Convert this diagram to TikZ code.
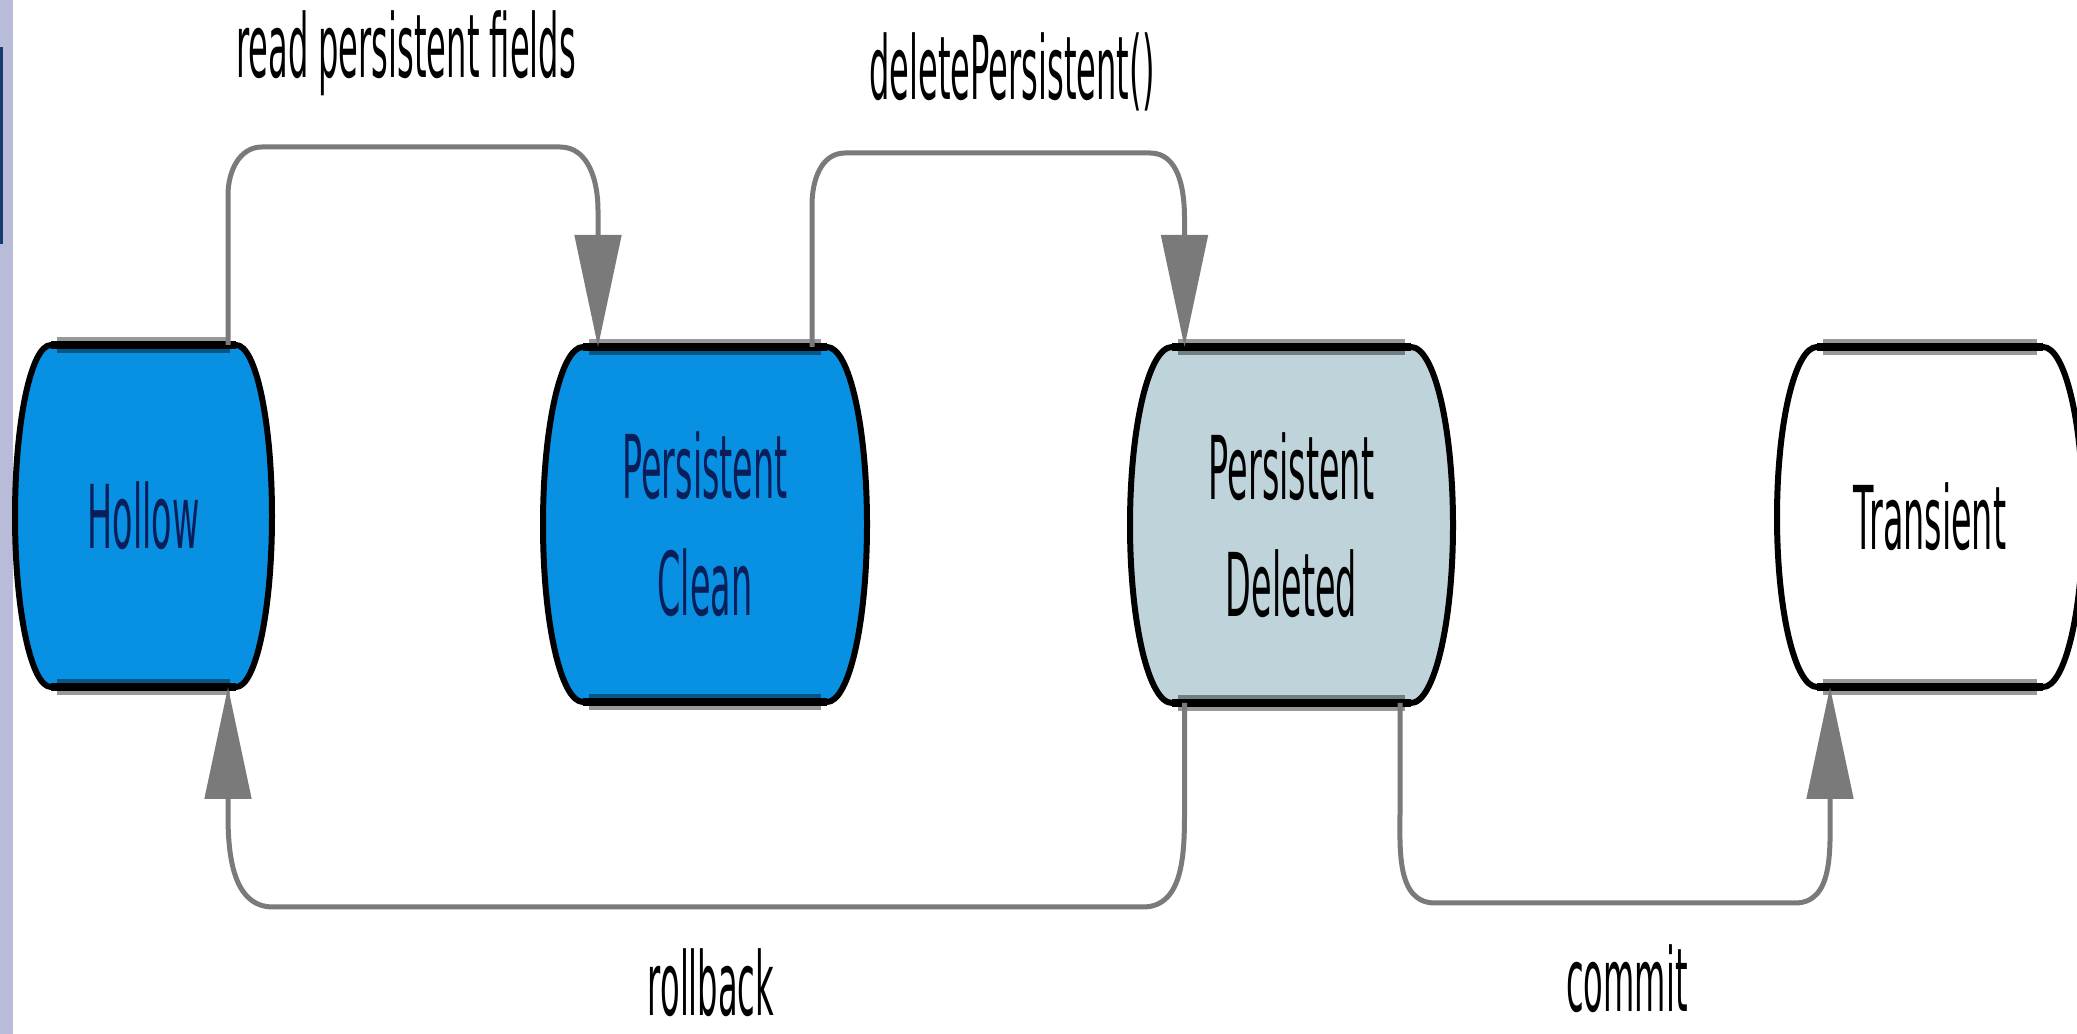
\documentclass[tikz,border=0pt]{standalone}
\usepackage{fontspec}
\setmainfont{DejaVu Sans}
\newfontfamily\nodefont[FakeStretch=0.38]{DejaVu Sans}
\newfontfamily\labfont[FakeStretch=0.365]{DejaVu Sans}
\usetikzlibrary{arrows.meta,backgrounds}
\definecolor{stblue}{RGB}{8,144,226}
\definecolor{stgrey}{RGB}{190,212,218}
\definecolor{navytext}{RGB}{10,30,90}
\definecolor{conncol}{RGB}{122,122,122}
\definecolor{stripcol}{RGB}{184,188,216}
\definecolor{stripmark}{RGB}{20,60,110}
\def\pxu{0.25pt}
% #1 node name, #2 bulge (px), #3 half height (px), #4 fill colour
\newcommand{\drawbarrel}[4]{%
  \path[fill=#4] ([xshift=#2*\pxu]#1.north west) -- ([xshift=-#2*\pxu]#1.north east)
     arc[start angle=90,end angle=-90,x radius=#2*\pxu,y radius=#3*\pxu]
     -- ([xshift=#2*\pxu]#1.south west)
     arc[start angle=270,end angle=90,x radius=#2*\pxu,y radius=#3*\pxu] -- cycle;
  \draw[black,opacity=0.4,line width=16*\pxu] ([xshift=(#2+6)*\pxu]#1.north west) -- ([xshift=-(#2+6)*\pxu]#1.north east);
  \draw[black,opacity=0.4,line width=16*\pxu] ([xshift=(#2+6)*\pxu]#1.south west) -- ([xshift=-(#2+6)*\pxu]#1.south east);
  \draw[black,line width=6*\pxu,line join=round] ([xshift=#2*\pxu]#1.north west) -- ([xshift=-#2*\pxu]#1.north east)
     arc[start angle=90,end angle=-90,x radius=#2*\pxu,y radius=#3*\pxu]
     -- ([xshift=#2*\pxu]#1.south west)
     arc[start angle=270,end angle=90,x radius=#2*\pxu,y radius=#3*\pxu] -- cycle;
  \draw[black,line width=8*\pxu] ([xshift=#2*\pxu]#1.north west) -- ([xshift=-#2*\pxu]#1.north east);
  \draw[black,line width=8*\pxu] ([xshift=#2*\pxu]#1.south west) -- ([xshift=-#2*\pxu]#1.south east);
}

\begin{document}
\begin{tikzpicture}[x=0.25pt,y=0.25pt,
  state/.style={rectangle,draw=none,inner sep=0pt,outer sep=0pt,align=center,
    font=\nodefont\fontsize{22}{29.25}\selectfont},
  elabel/.style={anchor=base,inner sep=0pt,font=\labfont\fontsize{22}{29.25}\selectfont,text=black},
  conn/.style={draw=conncol,line width=5*\pxu,-{Triangle[length=28pt,width=11.5pt]}}]

\useasboundingbox (0,0) rectangle (2077,-1034);

% states
\node[state,minimum width=257*\pxu,minimum height=342*\pxu,text=navytext] (hollow) at (143.5,-516) {Hollow};
\node[state,minimum width=324*\pxu,minimum height=355*\pxu,text=navytext] (clean) at (705,-524.5) {Persistent\\Clean};
\node[state,minimum width=323*\pxu,minimum height=356*\pxu,text=black] (deleted) at (1291.5,-525) {Persistent\\Deleted};
\node[state,minimum width=306*\pxu,minimum height=340*\pxu,text=black] (transient) at (1930,-517) {Transient};

\begin{scope}[on background layer]
  \fill[white] (0,0) rectangle (2077,-1034);
  % left strip
  \fill[stripcol] (0,0) rectangle (13,-1034);
  \fill[stripmark] (0,-47) rectangle (3.5,-244);
  \drawbarrel{hollow}{36}{171}{stblue}
  \drawbarrel{clean}{40}{177.5}{stblue}
  \drawbarrel{deleted}{42}{178}{stgrey}
  \drawbarrel{transient}{40}{170}{white}
\end{scope}

% connectors
\draw[conn] ([xshift=84.5*\pxu]hollow.north) -- (228,-195) to[out=90,in=180] (262,-147)
   -- (560,-147) to[out=0,in=90] (598,-210) -- ([xshift=-107*\pxu]clean.north);
\draw[conn] ([xshift=107*\pxu]clean.north) -- (812,-205) to[out=90,in=180] (845,-153)
   -- (1150,-153) to[out=0,in=90] (1184.5,-218) -- ([xshift=-107*\pxu]deleted.north);
\draw[conn] ([xshift=-107*\pxu]deleted.south) -- (1184.5,-810) to[out=-90,in=0] (1143,-907)
   -- (273,-907) to[out=180,in=-90] (228,-815) -- ([xshift=84.5*\pxu]hollow.south);
\draw[conn] ([xshift=108.5*\pxu]deleted.south) -- (1400,-810) to[out=-90,in=180] (1435,-903)
   -- (1795,-903) to[out=0,in=-90] (1830,-810) -- ([xshift=-100*\pxu]transient.south);

% labels
\node[elabel] (lread) at (406,-78) {read persistent fields};
\node[elabel] (ldel) at (1012,-100) {deletePersistent()};
\node[elabel] (lroll) at (711,-1016) {rollback};
\node[elabel] (lcommit) at (1627,-1012) {commit};
\end{tikzpicture}
\end{document}
